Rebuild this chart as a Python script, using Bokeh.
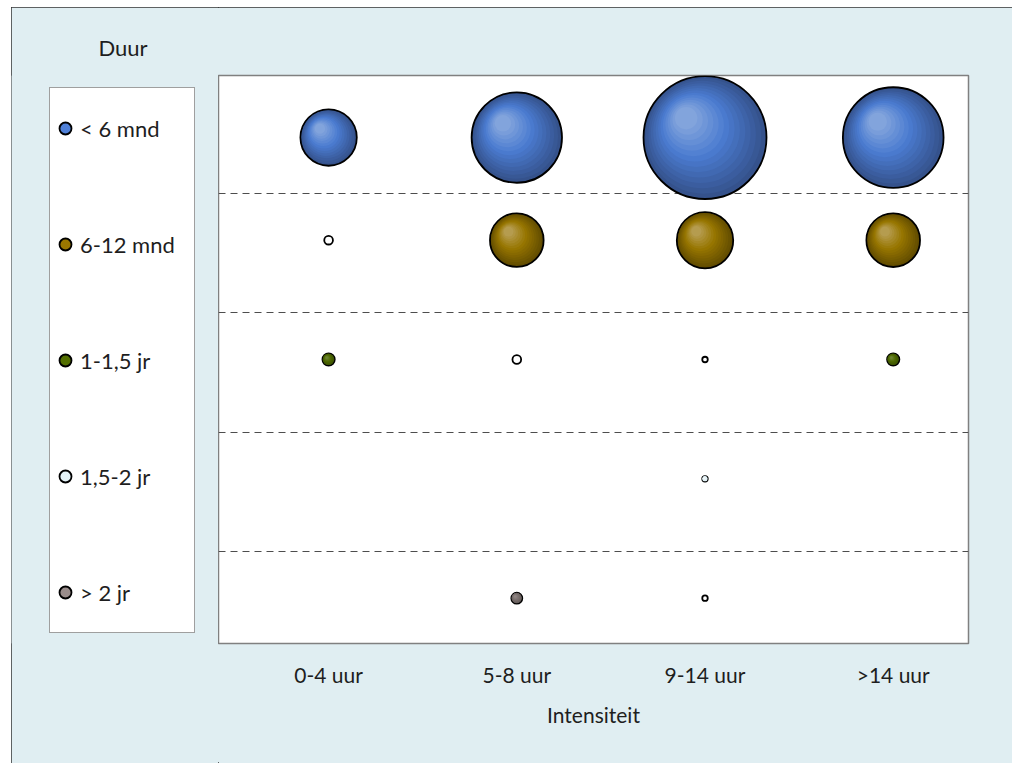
from bokeh.plotting import figure
from bokeh.layouts import row
from bokeh.models import ColumnDataSource, Range1d, FixedTicker, Grid, Legend, LegendItem
from bokeh.embed import file_html
from bokeh.resources import INLINE

# ---------------- data ----------------
intensiteit = ["0-4 uur", "5-8 uur", "9-14 uur", ">14 uur"]
duur = ["< 6 mnd", "6-12 mnd", "1-1,5 jr", "1,5-2 jr", "> 2 jr"]
duur_y = [4.86, 4, 3, 2, 1]
# bubble sizes (area); negative values are shown as white bubbles (Excel "show negative bubbles")
size_lt6 = [21, 54, 100, 67]
size_6_12 = [-0.5, 19, 21, 19]
size_1_15 = [1, -0.5, -0.2, 1]
size_15_2 = [0, 0, 0.2, 0]
size_gt2 = [0, 0.8, -0.2, 0]
series_sizes = [size_lt6, size_6_12, size_1_15, size_15_2, size_gt2]

# ---------------- style ----------------
OX, OY = 11, 7                      # page offset of the chart area
W, H = 1001, 756
WL = 218 - OX                       # width of legend column
W2 = W - WL
BR = 1012 - 968
BT = 75 - OY
BB = H - (643 - OY)
X0, X1 = 0.415, 4.40
Y0, Y1 = 0.62, 5.38
D_MAX = 123.0
BG = "#e0eef2"
FONT = "Lato"
TXT = "#1e1e1e"
# (dark edge, bright middle, highlight)
grad = [
    ("#35528c", "#4a7bd0", "#8cabde"),
    ("#624c00", "#977600", "#baa25c"),
    ("#3a5000", "#4f6a00", "#71883a"),
    ("#dceef4", "#e6f3f7", "#f2f9fb"),
    ("#625a58", "#7a706e", "#948a88"),
]
legend_colors = ["#4f80d8", "#9a7700", "#536f00", "#e4f2f7", "#9a8d8b"]

# ---------------- main chart ----------------
p = figure(width=W2, height=H, x_range=Range1d(X0, X1), y_range=Range1d(Y0, Y1),
           output_backend="svg", toolbar_location=None, y_axis_location=None,
           min_border_left=0, min_border_right=BR, min_border_top=BT, min_border_bottom=BB)
p.background_fill_color = "white"
p.border_fill_color = BG
p.outline_line_color = "#808080"
p.outline_line_width = 1.5
p.xgrid.visible = False
p.ygrid.visible = False

p.add_layout(Grid(dimension=1, ticker=FixedTicker(ticks=[1.39, 2.39, 3.39, 4.39]),
                  grid_line_color="#4d4d4d", grid_line_dash="7 5", grid_line_width=1))

fw = W2 - BR
fh = H - BT - BB
kx = fw / (X1 - X0)
ky = fh / (Y1 - Y0)


def hex2rgb(h):
    h = h.lstrip("#")
    return tuple(int(h[i:i + 2], 16) for i in (0, 2, 4))


def mix(a, b, t):
    ra, rb = hex2rgb(a), hex2rgb(b)
    return "#%02x%02x%02x" % tuple(int(round(ra[i] + (rb[i] - ra[i]) * t)) for i in range(3))


def shade(dark, mid, light, s):
    if s >= 0.55:
        return mix(mid, dark, (s - 0.55) / 0.45)
    return mix(light, mid, max(0.0, (s - 0.12) / 0.43))


xs, ys, szs, cols, lws, las = [], [], [], [], [], []
N = 14
for si, sizes in enumerate(series_sizes):
    dark, mid, light = grad[si]
    for xi, v in enumerate(sizes):
        if v == 0:
            continue
        d = D_MAX * (abs(v) / 100.0) ** 0.5
        cx, cy = xi + 1, duur_y[si]
        if v < 0:
            xs.append(cx); ys.append(cy); szs.append(d); cols.append("white"); lws.append(1.8); las.append(1)
            continue
        r = d / 2
        for k in range(N):
            s = 1 - k / N * 0.88
            offx = -(1 - s) * 0.33 * r / 0.88
            offy = -(1 - s) * 0.34 * r / 0.88
            xs.append(cx + offx / kx)
            ys.append(cy - offy / ky)
            szs.append(d * s)
            cols.append(shade(dark, mid, light, s))
            lws.append(1.8 if k == 0 else 0)
            las.append(1 if k == 0 else 0)

src = ColumnDataSource(dict(x=xs, y=ys, size=szs, color=cols, lw=lws, la=las))
p.scatter("x", "y", source=src, marker="circle", size="size", fill_color="color",
          line_color="black", line_width="lw", line_alpha="la")

ax = p.xaxis[0]
ax.ticker = FixedTicker(ticks=[1, 2, 3, 4])
ax.major_label_overrides = {i + 1: lab for i, lab in enumerate(intensiteit)}
ax.axis_line_color = None
ax.major_tick_line_color = None
ax.minor_tick_line_color = None
ax.major_tick_out = 0
ax.major_tick_in = 0
ax.major_label_standoff = 18
ax.major_label_text_font = FONT
ax.major_label_text_font_size = "21px"
ax.major_label_text_color = TXT
ax.axis_label = "Intensiteit"
ax.axis_label_text_font = FONT
ax.axis_label_text_font_size = "21px"
ax.axis_label_text_font_style = "normal"
ax.axis_label_text_color = TXT
ax.axis_label_standoff = 12

# ---------------- legend column ----------------
lg = figure(width=WL, height=H, x_range=Range1d(0, 1), y_range=Range1d(0, 1),
            output_backend="svg", toolbar_location=None,
            x_axis_location=None, y_axis_location=None,
            min_border_left=0, min_border_right=0, min_border_top=BT, min_border_bottom=BB)
lg.background_fill_color = BG
lg.border_fill_color = BG
lg.outline_line_color = None
lg.xgrid.visible = False
lg.ygrid.visible = False

items = []
for name, col in zip(duur, legend_colors):
    r = lg.scatter(x=[-5], y=[-5], marker="circle", size=10, fill_color=col,
                   line_color="black", line_width=1.8)
    items.append(LegendItem(label=name, renderers=[r]))
legend = Legend(items=items, location=(49 - OX, 643 - 633), padding=0, spacing=36,
                glyph_width=30, glyph_height=80, label_standoff=0, label_width=114,
                label_height=80, label_text_font=FONT, label_text_font_size="22px",
                label_text_color=TXT, border_line_color="#404040", border_line_width=1,
                background_fill_color="white", background_fill_alpha=1, margin=0)
lg.add_layout(legend)

lg.title.text = "Duur"
lg.title.align = "left"
lg.title.offset = 98 - OX
lg.title.standoff = 29
lg.title.text_font = FONT
lg.title.text_font_size = "22px"
lg.title.text_font_style = "normal"
lg.title.text_color = TXT

lay = row(lg, p, spacing=0)
lay.styles = {"outline": "1px solid #333333", "outline-offset": "-1px",
              "margin-left": "%dpx" % OX, "margin-top": "%dpx" % OY,
              "background-color": BG}

open("out.html", "w").write(file_html(lay, INLINE))
